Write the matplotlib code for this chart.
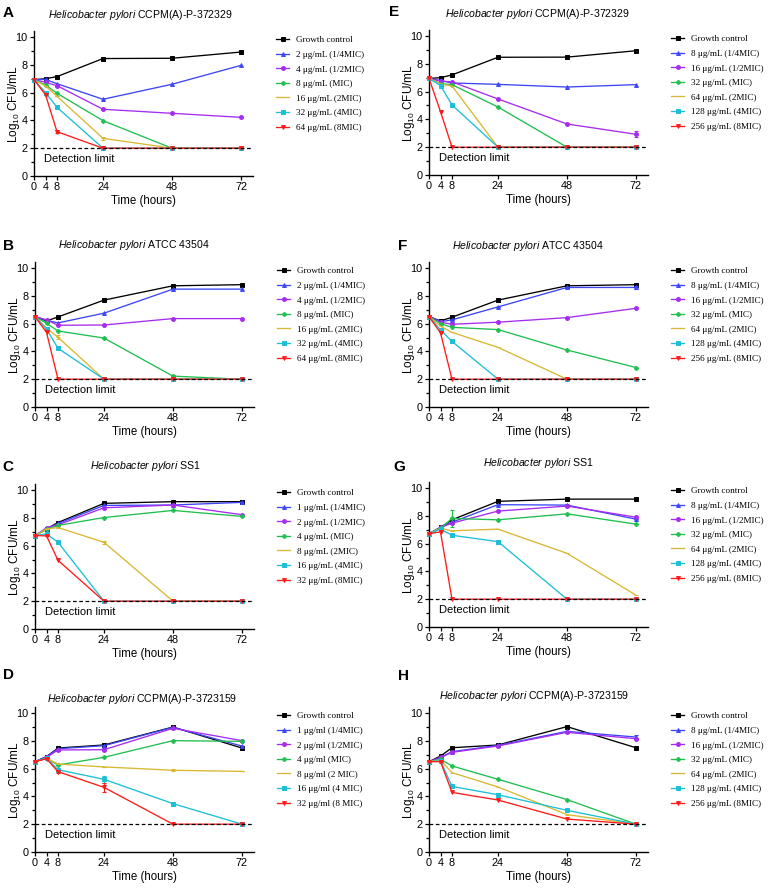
import matplotlib
matplotlib.use('Agg')
import matplotlib.pyplot as plt
from matplotlib.ticker import FixedLocator

plt.rcParams['font.family'] = ['Liberation Sans', 'DejaVu Sans']
plt.rcParams['mathtext.fontset'] = 'custom'
plt.rcParams['mathtext.rm'] = 'Liberation Sans'
plt.rcParams['mathtext.it'] = 'Liberation Sans:italic'
plt.rcParams['mathtext.bf'] = 'Liberation Sans:bold'

# ---------------- data ----------------
times = [0, 4, 8, 24, 48, 72]
xticks = [0, 4, 8, 24, 48, 72]
yticks = [0, 2, 4, 6, 8, 10]
detection_limit = 2

colors = ['#000000', '#3c46f5', '#a62cf0', '#1fbf4f', '#d8b832', '#1bbfd6', '#ff1a1a']
markers = ['s', '^', 'o', 'P', '_', 's', 'v']

A_strain = 'CCPM(A)-P-372329'
A_labels = ['Growth control', '2 μg/mL (1/4MIC)', '4 μg/mL (1/2MIC)', '8 μg/mL (MIC)',
            '16 μg/mL (2MIC)', '32 μg/mL (4MIC)', '64 μg/mL (8MIC)']
A_values = [[6.93, 7.0, 7.15, 8.45, 8.47, 8.92],
            [6.93, 6.95, 6.64, 5.52, 6.6, 7.96],
            [6.93, 6.74, 6.5, 4.8, 4.51, 4.22],
            [6.93, 6.55, 5.95, 3.98, 2.0, 2.0],
            [6.93, 6.47, 5.73, 2.71, 2.0, 2.0],
            [6.93, 6.0, 4.94, 2.0, 2.0, 2.0],
            [6.93, 5.85, 3.19, 2.0, 2.0, 2.0]]
A_err = {6: [0, 0, 0.12, 0, 0, 0], 4: [0, 0, 0, 0.1, 0, 0]}

B_strain = 'ATCC 43504'
B_labels = ['Growth control', '2 μg/mL (1/4MIC)', '4 μg/mL (1/2MIC)', '8 μg/mL (MIC)',
            '16 μg/mL (2MIC)', '32 μg/mL (4MIC)', '64 μg/mL (8MIC)']
B_values = [[6.5, 6.19, 6.48, 7.69, 8.72, 8.8],
            [6.5, 6.24, 6.05, 6.75, 8.48, 8.48],
            [6.5, 6.27, 5.88, 5.9, 6.36, 6.36],
            [6.5, 6.02, 5.47, 4.96, 2.22, 2.0],
            [6.5, 5.69, 5.01, 2.0, 2.0, 2.0],
            [6.5, 5.61, 4.22, 2.0, 2.0, 2.0],
            [6.5, 5.37, 2.0, 2.0, 2.0, 2.0]]
B_err = {4: [0, 0, 0.15, 0, 0, 0], 3: [0, 0, 0, 0, 0.08, 0]}

C_strain = 'SS1'
C_labels = ['Growth control', '1 μg/mL (1/4MIC)', '2 μg/mL (1/2MIC)', '4 μg/mL (MIC)',
            '8 μg/mL (2MIC)', '16 μg/mL (4MIC)', '32 μg/mL (8MIC)']
C_values = [[6.72, 7.2, 7.66, 9.04, 9.16, 9.16],
            [6.72, 7.2, 7.59, 8.89, 8.92, 9.11],
            [6.72, 7.28, 7.49, 8.72, 8.92, 8.22],
            [6.72, 7.16, 7.45, 8.02, 8.53, 8.1],
            [6.72, 7.2, 7.3, 6.24, 2.0, 2.0],
            [6.72, 6.84, 6.24, 2.0, 2.0, 2.0],
            [6.72, 6.7, 4.94, 2.0, 2.0, 2.0]]
C_err = {4: [0, 0, 0, 0.12, 0, 0]}

D_strain = 'CCPM(A)-P-3723159'
D_labels = ['Growth control', '1 μg/ml (1/4MIC)', '2 μg/ml (1/2MIC)', '4 μg/ml (MIC)',
            '8 μg/ml (2 MIC)', '16 μg/ml (4 MIC)', '32 μg/ml (8 MIC)']
D_values = [[6.5, 6.86, 7.48, 7.7, 8.99, 7.48],
            [6.5, 6.86, 7.43, 7.65, 8.97, 7.62],
            [6.5, 6.8, 7.34, 7.36, 8.9, 8.01],
            [6.5, 6.74, 6.26, 6.81, 8.01, 7.96],
            [6.5, 6.74, 6.33, 6.12, 5.88, 5.8],
            [6.5, 6.76, 5.92, 5.23, 3.48, 2.0],
            [6.5, 6.71, 5.78, 4.65, 2.0, 2.0]]
D_err = {6: [0, 0, 0.1, 0.35, 0, 0], 5: [0, 0, 0, 0.25, 0, 0], 4: [0, 0, 0, 0, 0.08, 0]}

E_strain = 'CCPM(A)-P-372329'
E_labels = ['Growth control', '8 μg/mL (1/4MIC)', '16 μg/mL (1/2MIC)', '32 μg/mL (MIC)',
            '64 μg/mL (2MIC)', '128 μg/mL (4MIC)', '256 μg/mL (8MIC)']
E_values = [[6.95, 7.0, 7.2, 8.47, 8.48, 8.94],
            [6.95, 6.8, 6.62, 6.52, 6.33, 6.5],
            [6.95, 6.75, 6.7, 5.47, 3.67, 2.93],
            [6.95, 6.57, 6.5, 4.89, 2.0, 2.0],
            [6.95, 6.55, 6.4, 2.0, 2.0, 2.0],
            [6.95, 6.43, 5.04, 2.0, 2.0, 2.0],
            [6.95, 4.56, 2.0, 2.0, 2.0, 2.0]]
E_err = {2: [0, 0, 0, 0, 0, 0.2]}

F_strain = 'ATCC 43504'
F_labels = ['Growth control', '8 μg/mL (1/4MIC)', '16 μg/mL (1/2MIC)', '32 μg/mL (MIC)',
            '64 μg/mL (2MIC)', '128 μg/mL (4MIC)', '256 μg/mL (8MIC)']
F_values = [[6.5, 6.19, 6.46, 7.69, 8.72, 8.8],
            [6.5, 6.14, 6.27, 7.2, 8.6, 8.6],
            [6.5, 6.1, 5.95, 6.1, 6.43, 7.1],
            [6.5, 6.0, 5.73, 5.57, 4.1, 2.84],
            [6.5, 5.81, 5.37, 4.29, 2.0, 2.0],
            [6.5, 5.54, 4.72, 2.0, 2.0, 2.0],
            [6.5, 5.33, 2.0, 2.0, 2.0, 2.0]]
F_err = {1: [0, 0, 0, 0, 0, 0.1]}

G_strain = 'SS1'
G_labels = ['Growth control', '8 μg/mL (1/4MIC)', '16 μg/mL (1/2MIC)', '32 μg/mL (MIC)',
            '64 μg/mL (2MIC)', '128 μg/mL (4MIC)', '256 μg/mL (8MIC)']
G_values = [[6.72, 7.16, 7.71, 9.04, 9.2, 9.2],
            [6.72, 7.16, 7.54, 8.8, 8.77, 7.76],
            [6.72, 7.16, 7.47, 8.34, 8.7, 7.9],
            [6.72, 7.1, 7.81, 7.71, 8.14, 7.4],
            [6.72, 7.1, 6.92, 7.04, 5.3, 2.29],
            [6.72, 7.04, 6.6, 6.14, 2.0, 2.0],
            [6.72, 6.84, 2.0, 2.0, 2.0, 2.0]]
G_err = {3: [0, 0, 0.6, 0, 0, 0], 1: [0, 0, 0, 0, 0.1, 0]}

H_strain = 'CCPM(A)-P-3723159'
H_labels = ['Growth control', '8 μg/mL (1/4MIC)', '16 μg/mL (1/2MIC)', '32 μg/mL (MIC)',
            '64 μg/mL (2MIC)', '128 μg/mL (4MIC)', '256 μg/mL (8MIC)']
H_values = [[6.5, 6.9, 7.5, 7.7, 9.02, 7.5],
            [6.5, 6.8, 7.22, 7.67, 8.68, 8.27],
            [6.5, 6.8, 7.17, 7.63, 8.61, 8.15],
            [6.5, 6.67, 6.19, 5.23, 3.77, 2.0],
            [6.5, 6.6, 5.71, 4.68, 2.69, 2.0],
            [6.5, 6.55, 4.72, 4.12, 3.0, 2.0],
            [6.5, 6.5, 4.29, 3.74, 2.37, 2.0]]
H_err = {1: [0, 0, 0, 0, 0, 0.15], 5: [0, 0, 0, 0.1, 0, 0]}

panels = [
    ('A', A_strain, A_labels, A_values, A_err),
    ('B', B_strain, B_labels, B_values, B_err),
    ('C', C_strain, C_labels, C_values, C_err),
    ('D', D_strain, D_labels, D_values, D_err),
    ('E', E_strain, E_labels, E_values, E_err),
    ('F', F_strain, F_labels, F_values, F_err),
    ('G', G_strain, G_labels, G_values, G_err),
    ('H', H_strain, H_labels, H_values, H_err),
]

# ---------------- layout (pixels) ----------------
W, H = 772, 891
fig = plt.figure(figsize=(W / 100, H / 100), dpi=100)

XMAX, YMAX = 76, 10.4
PPU_X, PPU_Y = 2.875, 13.9
AX_W, AX_H = XMAX * PPU_X, YMAX * PPU_Y

ax_left = {'A': 34, 'B': 35, 'C': 35, 'D': 35, 'E': 429, 'F': 429, 'G': 429, 'H': 429}
ax_y0 = {'A': 176, 'B': 407, 'C': 629, 'D': 852, 'E': 175, 'F': 407, 'G': 627, 'H': 852}
title_xy = {'A': (140, 15), 'B': (134, 245), 'C': (145, 466), 'D': (142, 699),
            'E': (537, 14), 'F': (528, 246), 'G': (538, 463), 'H': (534, 696)}
letter_xy = {'A': (3, 13), 'B': (3, 246), 'C': (2, 467), 'D': (3, 675),
             'E': (389, 12), 'F': (398, 246), 'G': (393, 467), 'H': (398, 676)}


def fx(px):
    return px / W


def fy(py):
    return 1 - py / H


for letter, strain, labels, values, errs in panels:
    left = ax_left[letter]
    y0 = ax_y0[letter]
    ax = fig.add_axes([fx(left), fy(y0), AX_W / W, AX_H / H])
    handles = []
    for i, (vals, lab) in enumerate(zip(values, labels)):
        ln, = ax.plot(times, vals, color=colors[i], lw=0.95, marker=markers[i],
                      ms=2.8 if markers[i] != '_' else 3.5, mew=0.7, zorder=3 + i * 0.01,
                      clip_on=False)
        if i in errs:
            ax.errorbar(times, vals, yerr=errs[i], fmt='none', ecolor=colors[i],
                        elinewidth=0.8, capsize=1.5, capthick=0.8, zorder=3)
        handles.append(ln)
    ax.axhline(detection_limit, color='black', ls=(0, (3, 2)), lw=0.9, zorder=10)
    ax.text(3.5, 1.2, 'Detection limit', fontsize=8, va='center', ha='left')

    ax.set_xlim(0, XMAX)
    ax.set_ylim(0, YMAX)
    ax.set_xticks(xticks)
    ax.set_yticks(yticks)
    ax.yaxis.set_minor_locator(FixedLocator([1, 3, 5, 7, 9]))
    ax.tick_params(axis='both', which='major', length=3, width=0.9, labelsize=7.8, pad=1.5)
    ax.tick_params(axis='y', which='minor', length=2, width=0.9)
    for s in ['top', 'right']:
        ax.spines[s].set_visible(False)
    for s in ['left', 'bottom']:
        ax.spines[s].set_linewidth(1.0)

    ax.text(-20 / AX_W, 0.5, 'Log$_{10}$ CFU/mL', transform=ax.transAxes, rotation=90,
            ha='center', va='center', fontsize=8.5)
    ax.text(109 / AX_W, -25 / AX_H, 'Time (hours)', transform=ax.transAxes,
            ha='center', va='center', fontsize=8.3)

    tx, ty = title_xy[letter]
    fig.text(fx(tx), fy(ty), r'$\mathit{Helicobacter\ pylori}$ ' + strain,
             ha='center', va='center', fontsize=7.6)
    lx, ly = letter_xy[letter]
    fig.text(fx(lx), fy(ly), letter, ha='left', va='center', fontsize=11, fontweight='bold')

    leg_x = (242) / AX_W
    leg_top_px = (y0 - 139) + 2 - 3
    leg_y = (y0 - leg_top_px) / AX_H
    ax.legend(handles, labels, loc='upper left', bbox_to_anchor=(leg_x, leg_y),
              frameon=False, borderpad=0, borderaxespad=0, handlelength=1.45,
              handletextpad=0.75, labelspacing=0.67, numpoints=1,
              prop={'family': 'Liberation Serif', 'size': 6.6})

fig.savefig('out.png', dpi=100)
